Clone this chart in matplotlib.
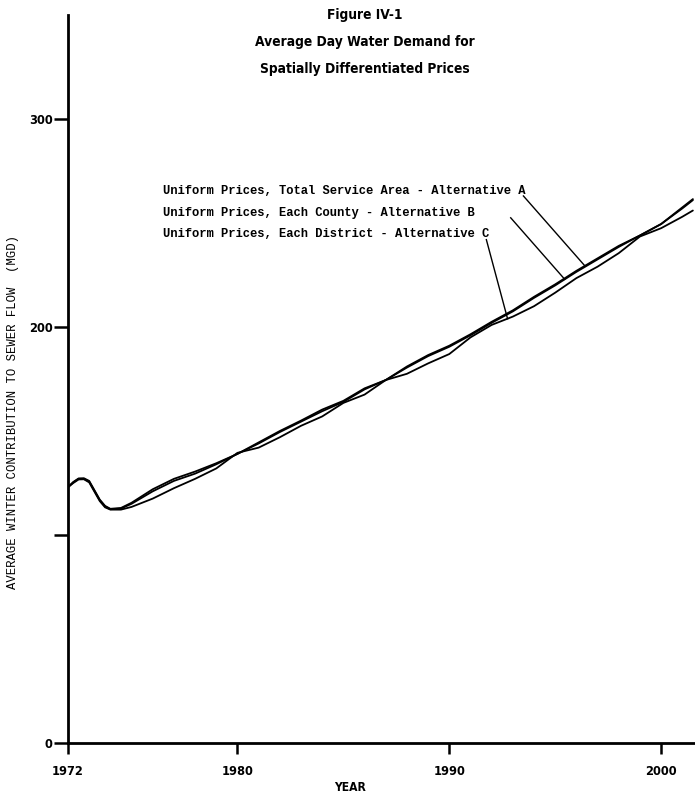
import matplotlib
matplotlib.use("Agg")
import matplotlib.pyplot as plt
from matplotlib import font_manager
from matplotlib.font_manager import FontProperties

# ---- data -------------------------------------------------------------
years = [1972.0, 1972.25, 1972.5, 1972.75, 1973.0, 1973.25, 1973.5, 1973.75,
         1974.0, 1974.5,
         1975, 1976, 1977, 1978, 1979, 1980, 1981, 1982, 1983, 1984,
         1985, 1986, 1987, 1988, 1989, 1990, 1991, 1992, 1993, 1994,
         1995, 1996, 1997, 1998, 1999, 2000, 2001, 2001.5]

alt_a = [123, 125.5, 127.2, 127.3, 126.0, 121.5, 117.0, 114.0, 112.6, 113.0,
         115.5, 122, 127, 130.5, 134.5, 139, 144.5, 150, 155, 160.3,
         164.5, 170.5, 174.5, 181, 186.5, 191, 196.5, 202.5, 208, 214.5,
         220.5, 227, 233, 239, 244, 249.5, 257.5, 261.5]

alt_b = [123, 125.3, 127.0, 127.0, 125.7, 121.2, 116.7, 113.7, 112.4, 112.7,
         115, 121, 126, 129.5, 134, 139, 144, 149.5, 154.5, 159.5,
         164, 170, 174.5, 180.5, 186, 190.5, 196, 202, 207.5, 214,
         220, 226.5, 232.5, 238.5, 244, 249.5, 257, 261]

alt_c = [123, 125.0, 126.7, 126.8, 125.3, 120.8, 116.3, 113.3, 112.2, 112.2,
         113.5, 117.5, 122.5, 127, 132, 139.5, 142, 147, 152.5, 157,
         163.5, 167.5, 174.5, 177.5, 182.5, 187, 195, 201, 205, 210,
         216.5, 223.5, 229, 235.5, 243.5, 247.5, 253, 256]

labels = ["Uniform Prices, Total Service Area - Alternative A",
          "Uniform Prices, Each County - Alternative B",
          "Uniform Prices, Each District - Alternative C"]
# where each leader line touches its curve (year)
pointer_years = [1996.4, 1995.45, 1992.75]

x_ticks = [1972, 1980, 1990, 2000]
y_ticks = [0, 100, 200, 300]
y_tick_labels = ["0", "", "200", "300"]

title_lines = ["Figure IV-1",
               "Average Day Water Demand for",
               "Spatially Differentiated Prices"]


# ---- fonts ------------------------------------------------------------
def _is_bold(entry):
    w = entry.weight
    if isinstance(w, str):
        return w.lower() in ("bold", "heavy", "black", "extra bold",
                             "demibold", "semibold", "demi")
    return w >= 600


def condensed_bold():
    """FontProperties for a narrow bold sans face, if one is installed."""
    entries = font_manager.fontManager.ttflist
    for f in entries:
        if f.name == "Liberation Sans Narrow" and _is_bold(f) and f.style == "normal":
            return FontProperties(fname=f.fname), 1.0
    narrow = [f for f in entries
              if ("Narrow" in f.name or "Condensed" in f.name
                  or str(f.stretch) in ("condensed", "semi-condensed"))
              and "Mono" not in f.name and "Serif" not in f.name]
    bold = [f for f in narrow if _is_bold(f) and f.style == "normal"]
    if bold:
        return FontProperties(fname=bold[0].fname), 0.9
    if narrow:
        return FontProperties(fname=narrow[0].fname), 1.0
    return FontProperties(family="Roboto", weight="bold"), 0.8


head_fp, size_scale = condensed_bold()
available = {f.name for f in font_manager.fontManager.ttflist}
mono = "Liberation Mono" if "Liberation Mono" in available else "DejaVu Sans Mono"

title_size = 11.0 * size_scale
tick_size = 10.2 * size_scale

# ---- figure -----------------------------------------------------------
fig = plt.figure(figsize=(6.95, 7.95), dpi=100)
ax = fig.add_axes([68 / 695, 52 / 795, 1 - 68 / 695, (743 - 15) / 795])

for series in (alt_a, alt_b, alt_c):
    ax.plot(years, series, color="black", lw=1.3, solid_capstyle="round")

ax.set_xlim(1972, 2001.6)
ax.set_ylim(0, 350)

for side in ("top", "right"):
    ax.spines[side].set_visible(False)
for side in ("left", "bottom"):
    ax.spines[side].set_linewidth(2.0)
    ax.spines[side].set_color("black")

ax.set_xticks(x_ticks)
ax.set_xticklabels([str(t) for t in x_ticks])
ax.set_yticks(y_ticks)
ax.set_yticklabels(y_tick_labels)
ax.tick_params(axis="x", direction="out", length=8, width=1.8,
               colors="black", pad=8)
ax.tick_params(axis="y", direction="out", length=10, width=1.8,
               colors="black", pad=1)
for lab in ax.get_xticklabels() + ax.get_yticklabels():
    lab.set_fontproperties(head_fp)
    lab.set_fontsize(tick_size)

ax.set_xlabel("YEAR", fontproperties=head_fp, fontsize=tick_size - 0.5)
ax.xaxis.set_label_coords((350 - 68) / (695 - 68), -0.052)
ax.set_ylabel("AVERAGE WINTER CONTRIBUTION TO SEWER FLOW  (MGD)",
              fontfamily=mono, fontsize=8.8)
ax.yaxis.set_label_coords(-0.078, 0.455)

# ---- leader labels ----------------------------------------------------
text_x = 1976.5
text_y = [265.5, 255, 244.5]
text_ends = [1993.5, 1992.9, 1991.75]
for lab, ty, tx_end, py, series in zip(labels, text_y, text_ends,
                                       pointer_years,
                                       (alt_a, alt_b, alt_c)):
    ax.text(text_x, ty, lab, fontfamily=mono, fontweight="bold",
            fontsize=8.7, ha="left", va="center")
    # value of the curve at the pointer year
    for i in range(len(years) - 1):
        if years[i] <= py <= years[i + 1]:
            f = (py - years[i]) / (years[i + 1] - years[i])
            pv = series[i] + f * (series[i + 1] - series[i])
            break
    ax.plot([tx_end, py], [ty - 2.5, pv], color="black", lw=1.0)

# ---- title ------------------------------------------------------------
for i, line in enumerate(title_lines):
    fig.text(365 / 695, 1 - (15 + 27 * i) / 795, line, ha="center",
             va="center", fontproperties=head_fp, fontsize=title_size)

fig.savefig("out.png", dpi=100)
